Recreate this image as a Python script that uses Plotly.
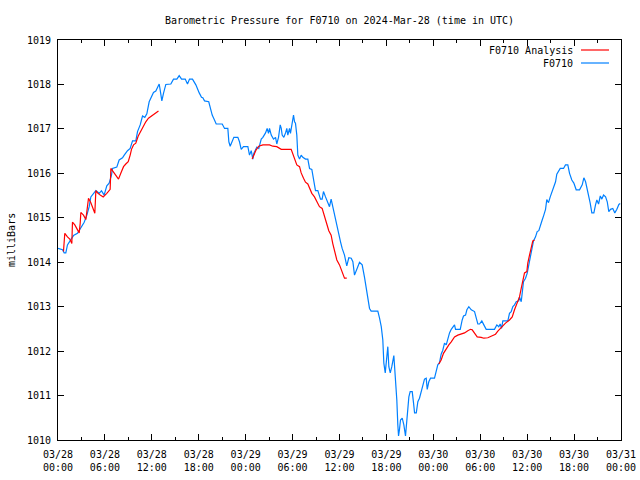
import pandas as pd
import plotly.graph_objects as go

START = pd.Timestamp("2024-03-28 00:00")

# F0710 observed pressure: hours after 03/28 00:00 UTC, milliBars
obs_hours = [0.0, 0.58, 0.79, 1.0, 1.21, 1.56, 1.98, 2.49, 2.92, 3.35, 3.69, 3.99, 4.2, 4.54, 4.84, 5.27, 5.56, 5.9,
             6.24, 6.54, 6.84, 6.97, 7.52, 7.82, 8.25, 8.47, 8.89, 9.23, 9.53, 9.95, 10.17, 10.51, 10.81, 11.1, 11.36,
             11.66, 11.96, 12.21, 12.51, 12.72, 12.94, 13.07, 13.28, 13.49, 13.79, 14.43, 14.77, 15.2, 15.5, 15.8,
             16.27, 16.56, 16.82, 17.2, 17.63, 18.06, 18.35, 18.52, 18.74, 19.28, 19.5, 19.72, 20.01, 20.23, 21.0,
             21.3, 21.72, 21.85, 22.02, 22.23, 22.49, 23.0, 23.21, 23.43, 23.72, 24.28, 24.49, 24.71, 24.92, 25.04,
             25.26, 25.43, 25.68, 25.99, 26.2, 26.54, 26.75, 26.92, 27.05, 27.27, 27.56, 27.82, 27.98, 28.2, 28.42,
             28.55, 28.67, 28.88, 29.1, 29.26, 29.39, 29.61, 29.73, 29.95, 30.12, 30.25, 30.37, 30.54, 30.67, 30.89,
             31.1, 31.31, 31.65, 31.95, 32.17, 32.46, 32.68, 32.93, 33.23, 33.44, 33.57, 33.78, 33.95, 34.21, 34.5,
             34.72, 34.93, 35.06, 35.27, 35.49, 35.7, 35.92, 36.13, 36.34, 36.64, 36.93, 37.19, 37.5, 37.71, 37.92,
             38.13, 38.34, 38.56, 38.9, 39.2, 39.42, 39.62, 39.84, 40.05, 40.9, 41.12, 41.34, 41.54, 41.67, 41.85,
             42.05, 42.18, 42.31, 42.49, 42.69, 42.82, 42.95, 43.03, 43.16, 43.33, 43.46, 43.55, 43.67, 43.8, 44.02,
             44.23, 44.44, 44.61, 44.74, 44.87, 45.04, 45.3, 45.47, 45.6, 45.82, 46.02, 46.23, 46.45, 46.66, 46.87,
             47.09, 47.22, 47.42, 47.64, 48.15, 48.37, 48.57, 48.79, 49.0, 49.21, 49.43, 49.65, 49.85, 50.07, 50.29,
             50.49, 50.71, 50.84, 51.44, 51.69, 51.86, 52.12, 52.29, 52.54, 52.85, 53.27, 53.49, 53.69, 53.91, 54.2,
             54.46, 54.76, 55.82, 56.12, 56.37, 56.55, 56.72, 56.89, 57.53, 57.74, 57.96, 58.17, 58.38, 58.6, 58.93,
             59.02, 59.24, 59.37, 59.53, 59.79, 60.0, 60.21, 60.39, 60.6, 60.81, 61.07, 61.28, 61.49, 61.71, 61.92,
             62.13, 62.35, 62.51, 62.73, 62.95, 63.15, 63.37, 63.63, 63.79, 64.01, 64.23, 64.65, 64.9, 65.2, 65.42,
             65.71, 65.97, 66.27, 66.7, 67.04, 67.25, 67.47, 67.76, 68.06, 68.27, 68.53, 68.74, 68.91, 69.13, 69.35,
             69.55, 69.77, 70.03, 70.24, 70.44, 70.66, 70.95, 71.21, 71.47, 71.73, 71.9]
obs_mb = [1014.31, 1014.28, 1014.21, 1014.21, 1014.39, 1014.5, 1014.6, 1014.65, 1014.76, 1014.9, 1015.06, 1015.25,
          1015.47, 1015.55, 1015.61, 1015.55, 1015.61, 1015.51, 1015.72, 1015.78, 1015.96, 1016.11, 1016.14, 1016.3,
          1016.35, 1016.41, 1016.51, 1016.56, 1016.73, 1016.73, 1016.94, 1017.09, 1017.29, 1017.26, 1017.34, 1017.61,
          1017.72, 1017.82, 1017.85, 1017.95, 1018.01, 1017.87, 1017.63, 1017.8, 1018.0, 1018.01, 1018.12, 1018.12,
          1018.2, 1018.12, 1018.12, 1018.01, 1018.12, 1018.12, 1017.99, 1017.81, 1017.71, 1017.7, 1017.63, 1017.61,
          1017.43, 1017.31, 1017.2, 1017.11, 1017.11, 1017.01, 1017.01, 1016.71, 1016.61, 1016.71, 1016.81, 1016.81,
          1016.71, 1016.54, 1016.6, 1016.6, 1016.41, 1016.51, 1016.32, 1016.45, 1016.53, 1016.59, 1016.56, 1016.77,
          1016.81, 1016.91, 1017.01, 1016.9, 1017.01, 1016.86, 1016.77, 1016.81, 1016.66, 1016.81, 1017.09, 1017.01,
          1016.86, 1016.81, 1016.91, 1017.01, 1016.86, 1017.01, 1016.9, 1017.13, 1017.31, 1017.16, 1017.13, 1016.86,
          1016.41, 1016.32, 1016.41, 1016.36, 1016.32, 1016.32, 1016.11, 1016.09, 1015.81, 1015.61, 1015.61, 1015.51,
          1015.42, 1015.42, 1015.59, 1015.47, 1015.36, 1015.25, 1015.42, 1015.31, 1015.14, 1014.95, 1014.76, 1014.61,
          1014.46, 1014.31, 1014.16, 1013.92, 1014.1, 1014.09, 1014.01, 1013.71, 1013.79, 1013.9, 1014.0, 1013.94,
          1013.66, 1013.41, 1013.24, 1012.96, 1012.9, 1012.9, 1012.74, 1012.55, 1012.25, 1011.73, 1011.51, 1011.84,
          1012.1, 1011.65, 1011.51, 1011.65, 1011.84, 1011.9, 1011.69, 1011.37, 1010.9, 1010.34, 1010.09, 1010.24,
          1010.45, 1010.49, 1010.34, 1010.09, 1010.38, 1010.71, 1010.97, 1011.09, 1011.09, 1010.83, 1010.61, 1010.61,
          1010.86, 1010.94, 1011.09, 1011.24, 1011.37, 1011.39, 1011.14, 1011.31, 1011.39, 1011.39, 1011.54, 1011.69,
          1011.74, 1011.93, 1012.02, 1012.18, 1012.14, 1012.27, 1012.41, 1012.49, 1012.55, 1012.59, 1012.49, 1012.49,
          1012.7, 1012.79, 1012.81, 1012.93, 1013.0, 1012.93, 1012.89, 1012.77, 1012.61, 1012.61, 1012.68, 1012.59,
          1012.49, 1012.49, 1012.59, 1012.55, 1012.61, 1012.51, 1012.68, 1012.68, 1012.85, 1012.89, 1013.0, 1013.04,
          1013.11, 1013.13, 1013.22, 1013.11, 1013.41, 1013.56, 1013.64, 1013.75, 1013.94, 1014.09, 1014.31, 1014.48,
          1014.57, 1014.69, 1014.71, 1014.86, 1014.95, 1015.06, 1015.19, 1015.41, 1015.34, 1015.47, 1015.56, 1015.68,
          1015.81, 1015.98, 1016.06, 1016.11, 1016.11, 1016.19, 1016.19, 1016.0, 1015.85, 1015.78, 1015.63, 1015.63,
          1015.74, 1015.9, 1015.81, 1015.59, 1015.33, 1015.11, 1015.11, 1015.29, 1015.4, 1015.31, 1015.49, 1015.42,
          1015.51, 1015.47, 1015.36, 1015.14, 1015.19, 1015.21, 1015.11, 1015.19, 1015.3, 1015.32]

# F0710 Analysis (None = break between analysis runs)
ana_hours = [0.7, 0.74, 0.87, 1.21, 1.51, 1.77, 1.85, 2.15, 2.4, 2.71, 2.84, 2.92, 3.26, 3.56, 3.69, 3.9, 4.2, 4.5,
             4.71, 4.84, 5.05, 5.4, 5.78, 6.24, 6.67, 6.76, 7.19, 7.48, 7.74, 8.03, 8.38, 8.67, 8.98, 9.23, 9.4, 9.66,
             9.95, 10.26, 10.59, 10.93, 11.23, 11.57, 11.96, 12.38, 12.85, 18.0,
             24.83, 25.04, 25.34, 25.68, 26.2, 27.05, 27.47, 27.98, 28.55, 29.82, 30.03, 30.25, 30.54, 30.89, 31.1,
             31.4, 31.65, 31.95, 32.17, 32.46, 32.8, 33.1, 33.44, 33.78, 34.08, 34.29, 34.63, 34.93, 35.14, 35.36,
             35.66, 36.0, 36.34, 36.55, 36.64, 36.93, 42.0,
             48.7, 49.0, 49.3, 49.65, 49.98, 50.29, 50.71, 51.13, 51.56, 51.99, 52.41, 52.76, 52.97, 53.27, 53.61,
             54.12, 54.46, 54.97, 55.4, 55.95, 56.25, 56.68, 57.23, 57.74, 58.09, 58.38, 58.6, 58.8, 59.02, 59.24,
             59.44, 59.66, 59.96, 60.08, 60.3, 60.6, 60.72, 60.94]
ana_mb = [1014.24, 1014.44, 1014.65, 1014.57, 1014.52, 1014.42, 1014.9, 1014.84, 1014.76, 1014.66, 1014.88, 1015.12,
          1015.06, 1014.96, 1015.14, 1015.44, 1015.34, 1015.21, 1015.1, 1015.61, 1015.56, 1015.51, 1015.47, 1015.55,
          1015.64, 1016.11, 1016.01, 1015.92, 1015.87, 1016.0, 1016.15, 1016.21, 1016.26, 1016.41, 1016.54, 1016.64,
          1016.68, 1016.84, 1016.95, 1017.05, 1017.16, 1017.24, 1017.29, 1017.35, 1017.4, None,
          1016.32, 1016.41, 1016.53, 1016.61, 1016.64, 1016.64, 1016.61, 1016.6, 1016.54, 1016.54, 1016.45, 1016.34,
          1016.19, 1016.15, 1016.01, 1015.89, 1015.8, 1015.76, 1015.66, 1015.55, 1015.47, 1015.36, 1015.25, 1015.21,
          1015.06, 1014.91, 1014.71, 1014.61, 1014.42, 1014.24, 1014.05, 1013.94, 1013.79, 1013.69, 1013.64, 1013.64,
          None,
          1011.71, 1011.8, 1011.95, 1012.06, 1012.14, 1012.21, 1012.32, 1012.36, 1012.38, 1012.41, 1012.46, 1012.49,
          1012.48, 1012.4, 1012.32, 1012.31, 1012.29, 1012.3, 1012.34, 1012.38, 1012.45, 1012.53, 1012.63, 1012.7,
          1012.77, 1012.93, 1013.04, 1013.11, 1013.22, 1013.41, 1013.56, 1013.76, 1013.79, 1013.98, 1014.16, 1014.35,
          1014.48, 1014.5]

tick_hours = list(range(0, 73, 6))
tick_labels = ["03/28<br>00:00", "03/28<br>06:00", "03/28<br>12:00", "03/28<br>18:00",
               "03/29<br>00:00", "03/29<br>06:00", "03/29<br>12:00", "03/29<br>18:00",
               "03/30<br>00:00", "03/30<br>06:00", "03/30<br>12:00", "03/30<br>18:00",
               "03/31<br>00:00"]
y_ticks = list(range(1010, 1020))

BLUE = "#0080ff"
RED = "#ff0000"
FONT = "DejaVu Sans Mono"


def to_time(hours):
    return [START + pd.Timedelta(hours=h) for h in hours]


fig = go.Figure()
fig.add_trace(go.Scatter(x=to_time(obs_hours), y=obs_mb, mode="lines", name="F0710",
                         line=dict(color=BLUE, width=1.2)))
fig.add_trace(go.Scatter(x=to_time(ana_hours), y=ana_mb, mode="lines", name="F0710 Analysis",
                         line=dict(color=RED, width=1.2), connectgaps=False))

fig.update_layout(
    width=640, height=480,
    margin=dict(l=58, r=19, t=40, b=40),
    paper_bgcolor="white", plot_bgcolor="white",
    showlegend=False,
    font=dict(family=FONT, size=10, color="black"),
    title=dict(text="Barometric Pressure for F0710 on 2024-Mar-28 (time in UTC)",
               x=0.5, xref="paper", xanchor="center",
               y=1 - 20 / 480, yref="container", yanchor="middle",
               font=dict(family=FONT, size=10, color="black")),
    xaxis=dict(type="date", range=[START, START + pd.Timedelta(hours=72)],
               tickvals=to_time(tick_hours), ticktext=tick_labels,
               ticks="inside", ticklen=6, tickcolor="black", tickwidth=1,
               minor=dict(ticks="inside", ticklen=3, dtick=3 * 3600 * 1000,
                          tick0=START, tickcolor="black", showgrid=False),
               showline=True, linecolor="black", linewidth=1, mirror="allticks",
               showgrid=False, zeroline=False, ticklabelstandoff=5, automargin=False),
    yaxis=dict(range=[1010, 1019], tickvals=y_ticks, ticktext=[str(v) for v in y_ticks],
               ticks="inside", ticklen=6, tickcolor="black", tickwidth=1,
               showline=True, linecolor="black", linewidth=1, mirror="allticks",
               showgrid=False, zeroline=False, ticklabelstandoff=4, automargin=False),
)

fig.add_annotation(text="milliBars", textangle=-90, xref="paper", yref="paper",
                   x=0, y=0.5, xanchor="center", yanchor="middle", xshift=-47, showarrow=False,
                   font=dict(family=FONT, size=10, color="black"))

# legend drawn gnuplot-style (text right, sample line after)
legend_rows = [("F0710 Analysis", RED, 50), ("F0710", BLUE, 63)]
for label, color, ypx in legend_rows:
    yp = (440 - ypx) / 400
    fig.add_annotation(text=label, xref="paper", yref="paper", x=(575 - 58) / 563, y=yp,
                       xanchor="right", yanchor="middle", showarrow=False,
                       font=dict(family=FONT, size=10, color="black"))
    fig.add_shape(type="line", xref="paper", yref="paper",
                  x0=(581 - 58) / 563, x1=(609 - 58) / 563, y0=yp, y1=yp,
                  line=dict(color=color, width=1.2))

fig.write_html("out.html", config={"displayModeBar": False, "staticPlot": True},
               post_script="document.body.style.margin='0';document.body.style.overflow='hidden';")
